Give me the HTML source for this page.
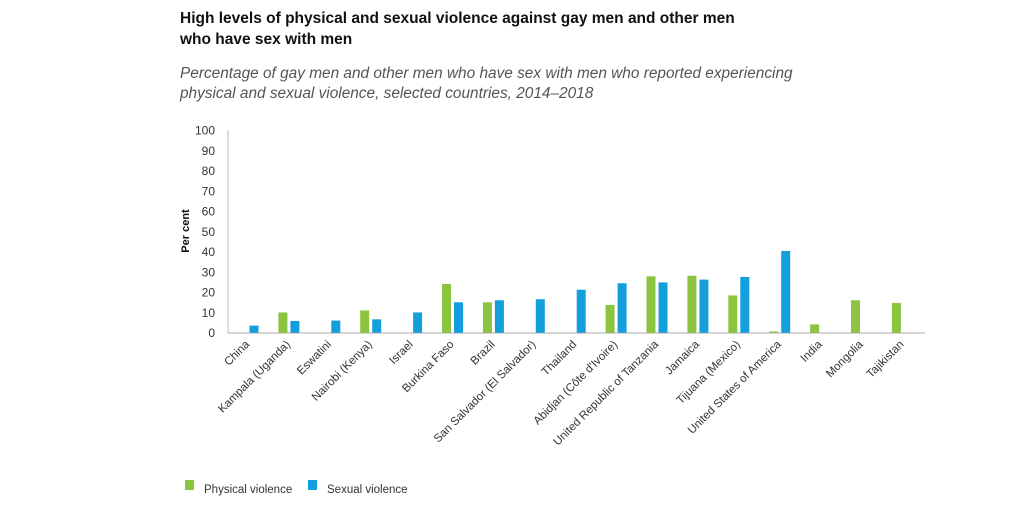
<!DOCTYPE html>
<html><head><meta charset="utf-8"><style>
body{margin:0;background:#fff;width:1024px;height:512px;overflow:hidden;font-family:"Liberation Sans",sans-serif;}
</style></head><body>
<svg width="1024" height="512" xmlns="http://www.w3.org/2000/svg">
<text x="180" y="23" font-size="15.5" font-weight="bold" fill="#111">High levels of physical and sexual violence against gay men and other men</text>
<text x="180" y="44" font-size="15.5" font-weight="bold" fill="#111">who have sex with men</text>
<text x="180" y="78" font-size="15.4" font-style="italic" fill="#555">Percentage of gay men and other men who have sex with men who reported experiencing</text>
<text x="180" y="98" font-size="15.4" font-style="italic" fill="#555">physical and sexual violence, selected countries, 2014–2018</text>
<text transform="translate(189,231) rotate(-90)" text-anchor="middle" font-size="11" font-weight="bold" fill="#111">Per cent</text>
<line x1="228" y1="130" x2="228" y2="333" stroke="#bbb" stroke-width="1"/>
<line x1="228" y1="333" x2="925" y2="333" stroke="#aaa" stroke-width="1"/>
<g id="yticks"></g><g id="bars"></g><g id="xlabels"></g>
<rect x="185" y="480" width="9" height="10" fill="#8cc43f"/>
<text x="204" y="493" font-size="11.5" fill="#333">Physical violence</text>
<rect x="308" y="480" width="9" height="10" fill="#139fdb"/>
<text x="327" y="493" font-size="11.5" fill="#333">Sexual violence</text>
</svg>
<script>
const categories=["China","Kampala (Uganda)","Eswatini","Nairobi (Kenya)","Israel","Burkina Faso","Brazil","San Salvador (El Salvador)","Thailand","Abidjan (Côte d'Ivoire)","United Republic of Tanzania","Jamaica","Tijuana (Mexico)","United States of America","India","Mongolia","Tajikistan"];
const physical=[null,10,null,11,null,24,15,null,null,13.7,27.8,28.1,18.4,0.6,4.1,16,14.7];
const sexual=[3.5,5.8,6,6.6,10,15,16,16.5,21.2,24.4,24.8,26.2,27.5,40.3,null,null,null];
const yTicks=[0,10,20,30,40,50,60,70,80,90,100];
const NS="http://www.w3.org/2000/svg";
const y=v=>332.7-v*2.027;
const xc=i=>248+i*40.9;
const yt=document.getElementById('yticks');
yTicks.forEach(t=>{const e=document.createElementNS(NS,'text');


e.setAttribute('x',215);e.setAttribute('y',y(t)+4.5);e.setAttribute('text-anchor','end');e.setAttribute('font-size','12');e.setAttribute('fill','#333');e.textContent=t;yt.appendChild(e);});
const bg=document.getElementById('bars');
function bar(v,x,c,n){if(v==null)return;const r=document.createElementNS(NS,'rect');


r.setAttribute('x',x);r.setAttribute('y',y(v));r.setAttribute('width',9);r.setAttribute('height',332.7-y(v));r.setAttribute('fill',c);bg.appendChild(r);}
categories.forEach((c,i)=>{bar(physical[i],xc(i)-10.5,'#8cc43f','bar-physical');bar(sexual[i],xc(i)+1.5,'#139fdb','bar-sexual');});
const xl=document.getElementById('xlabels');
categories.forEach((c,i)=>{const e=document.createElementNS(NS,'text');


e.setAttribute('transform',`translate(${xc(i)+2},345) rotate(-45)`);e.setAttribute('text-anchor','end');e.setAttribute('font-size','11.5');e.setAttribute('fill','#333');e.textContent=c;xl.appendChild(e);});
</script>
</body></html>
